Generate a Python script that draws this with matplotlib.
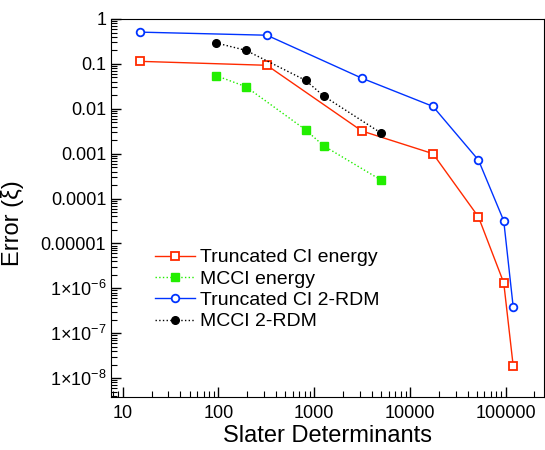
import matplotlib
matplotlib.use("Agg")
import matplotlib.pyplot as plt
from matplotlib.ticker import FixedLocator, FuncFormatter, LogLocator, NullFormatter

plt.rcParams['font.family'] = ['Liberation Sans', 'DejaVu Sans']
plt.rcParams['mathtext.fontset'] = 'custom'
plt.rcParams['mathtext.rm'] = 'Liberation Sans'
plt.rcParams['mathtext.it'] = 'Liberation Sans'

# data
tci_x = [15, 321, 3150, 17400, 52000, 95500, 120000]
tci_energy = [0.114, 0.093, 0.0032, 0.001, 3.9e-5, 1.33e-6, 1.85e-8]
tci_rdm = [0.51, 0.435, 0.048, 0.0113, 0.00072, 3.2e-5, 3.8e-7]

mcci_x = [94, 194, 813, 1253, 4970]
mcci_energy = [0.055, 0.031, 0.0034, 0.0015, 0.00026]
mcci_rdm = [0.294, 0.2, 0.043, 0.0193, 0.0029]

y_ticks = [1, 0.1, 0.01, 0.001, 0.0001, 0.00001, 1e-6, 1e-7, 1e-8]
y_labels = ['1', '0.1', '0.01', '0.001', '0.0001', '0.00001',
            r'1$\times$10$^{-6}$', r'1$\times$10$^{-7}$', r'1$\times$10$^{-8}$']
x_ticks = [10, 100, 1000, 10000, 100000]
x_labels = ['10', '100', '1000', '10000', '100000']

fig = plt.figure(figsize=(5.45, 4.5), dpi=100)
ax = fig.add_axes([0.2037, 0.1178, 0.7943, 0.84])

ax.plot(tci_x, tci_energy, '-s', color='#ff2a00', lw=1.0, ms=5.5,
        mfc='white', mew=1.3, label='Truncated CI energy')
ax.plot(mcci_x, mcci_energy, ':s', color='#22ee00', lw=1.0, ms=5.5,
        label='MCCI energy')
ax.plot(tci_x, tci_rdm, '-o', color='#0033ff', lw=1.0, ms=5.5,
        mfc='white', mew=1.3, label='Truncated CI 2-RDM')
ax.plot(mcci_x, mcci_rdm, ':o', color='black', lw=1.0, ms=5.5,
        label='MCCI 2-RDM')

ax.set_xscale('log')
ax.set_yscale('log')
ax.set_xlim(7.55, 251000)
ax.set_ylim(3.8e-9, 1.0)

ax.yaxis.set_major_locator(FixedLocator(y_ticks))
ax.yaxis.set_major_formatter(FuncFormatter(lambda v, p: y_labels[y_ticks.index(v)] if v in y_ticks else ''))
ax.yaxis.set_minor_locator(LogLocator(base=10, subs=range(2, 10), numticks=20))
ax.yaxis.set_minor_formatter(NullFormatter())
ax.xaxis.set_major_locator(FixedLocator(x_ticks))
ax.set_xticklabels(x_labels)
ax.xaxis.set_minor_locator(LogLocator(base=10, subs=range(2, 10), numticks=20))
ax.xaxis.set_minor_formatter(NullFormatter())

ax.tick_params(which='both', direction='in', top=False, right=False, labelsize=13)
ax.tick_params(which='major', length=7, width=1)
ax.tick_params(which='minor', length=4, width=0.8)
ax.tick_params(axis='x', pad=6)

ax.set_xlabel('Slater Determinants', fontsize=17, labelpad=2)
ax.set_ylabel('Error (\u03be)', fontsize=17)
ax.yaxis.set_label_coords(-0.2, 0.46)

ax.legend(loc='center left', bbox_to_anchor=(0.1016, 0.284), frameon=False,
          fontsize=14, borderpad=0, handlelength=2.06, handletextpad=0.26,
          labelspacing=0.19, borderaxespad=0)

fig.savefig('out.png', dpi=100)
